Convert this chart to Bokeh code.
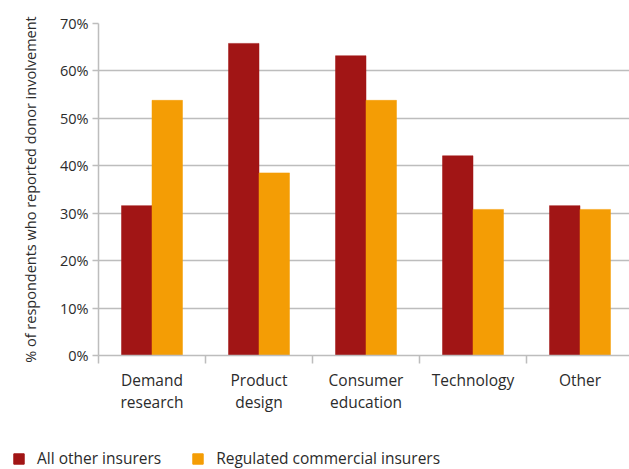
import numpy as np
from bokeh.plotting import figure
from bokeh.layouts import column, row
from bokeh.models import Range1d, FixedTicker, Legend, LegendItem
from bokeh.embed import file_html
from bokeh.resources import INLINE

categories = ["Demand\nresearch", "Product\ndesign", "Consumer\neducation", "Technology", "Other"]
all_other = [31.6, 65.8, 63.2, 42.1, 31.6]
regulated = [53.8, 38.5, 53.8, 30.8, 30.8]
y_ticks = [0, 10, 20, 30, 40, 50, 60, 70]
series_names = ["All other insurers", "Regulated commercial insurers"]

RED = "#A11515"
ORANGE = "#F49D05"
GRID = "#BDBDBD"
TEXT = "#2B2B2B"
FONT = "Open Sans"

n = len(categories)
centers = np.arange(n) + 0.5
bw = 0.285

W = 629
H1, H2 = 420, 49
LEFT, TOP, BOTTOM = 98, 23, 65
x_end = (W - LEFT) / 107.0

p = figure(width=W, height=H1, output_backend="svg", toolbar_location=None,
           x_range=Range1d(0, x_end), y_range=Range1d(0, 70),
           min_border_left=LEFT, min_border_right=0, min_border_top=TOP, min_border_bottom=BOTTOM)
p.outline_line_color = None
p.background_fill_color = "white"
p.border_fill_color = "white"

p.vbar(x=centers - bw / 2, top=all_other, width=bw, fill_color=RED, line_color=RED, line_width=0.5)
p.vbar(x=centers + bw / 2, top=regulated, width=bw, fill_color=ORANGE, line_color=ORANGE, line_width=0.5)

# grid
p.xgrid.grid_line_color = None
p.ygrid.grid_line_color = GRID
p.ygrid.grid_line_width = 1.5
p.ygrid.ticker = FixedTicker(ticks=y_ticks)

# y axis
ya = p.yaxis[0]
ya.ticker = FixedTicker(ticks=y_ticks, minor_ticks=[])
ya.major_label_overrides = {t: f"{t}%" for t in y_ticks}
ya.axis_line_color = GRID
ya.axis_line_width = 1.5
ya.major_tick_line_color = GRID
ya.major_tick_line_width = 1.5
ya.major_tick_in = 0
ya.major_tick_out = 6
ya.minor_tick_line_color = None
ya.major_label_standoff = 4
ya.major_label_text_font = FONT
ya.major_label_text_font_size = "14.5px"
ya.major_label_text_color = TEXT
ya.axis_label = "% of respondents who reported donor involvement"
ya.axis_label_text_font = FONT
ya.axis_label_text_font_size = "14.5px"
ya.axis_label_text_font_style = "normal"
ya.axis_label_text_color = TEXT
ya.axis_label_standoff = 17

# x axis: labels at category centres, tick marks at boundaries
xa = p.xaxis[0]
xa.ticker = FixedTicker(ticks=list(centers), minor_ticks=list(range(n + 1)))
xa.major_label_overrides = {float(c): lab for c, lab in zip(centers, categories)}
xa.axis_line_color = GRID
xa.axis_line_width = 1.5
xa.major_tick_line_color = None
xa.major_tick_in = 0
xa.major_tick_out = 0
xa.minor_tick_line_color = GRID
xa.minor_tick_line_width = 1.5
xa.minor_tick_in = 0
xa.minor_tick_out = 8
xa.major_label_standoff = 5
xa.major_label_text_font = FONT
xa.major_label_text_font_size = "15.5px"
xa.major_label_text_color = TEXT
xa.major_label_text_line_height = 1.0

# legend strip (its bars lie outside its visible y range; only the legend shows)
q = figure(width=W, height=H2, output_backend="svg", toolbar_location=None,
           x_axis_type=None, y_axis_type=None,
           x_range=Range1d(0, x_end), y_range=Range1d(100, 200),
           min_border_left=0, min_border_right=0, min_border_top=0, min_border_bottom=0)
q.outline_line_color = None
q.grid.visible = False
lr1 = q.vbar(x=centers - bw / 2, top=all_other, width=bw, fill_color=RED, line_color=RED)
lr2 = q.vbar(x=centers + bw / 2, top=regulated, width=bw, fill_color=ORANGE, line_color=ORANGE)
legend = Legend(items=[LegendItem(label=series_names[0], renderers=[lr1]),
                       LegendItem(label=series_names[1], renderers=[lr2])],
                location=(12, 0), orientation="horizontal",
                glyph_width=13, glyph_height=13, spacing=30, padding=0, margin=0,
                label_standoff=12, label_text_font=FONT, label_text_font_size="15.5px",
                label_text_color=TEXT, border_line_color=None, background_fill_alpha=0)
q.add_layout(legend, "center")

layout = column(p, row(q), spacing=0)
open("out.html", "w").write(file_html(layout, INLINE))
